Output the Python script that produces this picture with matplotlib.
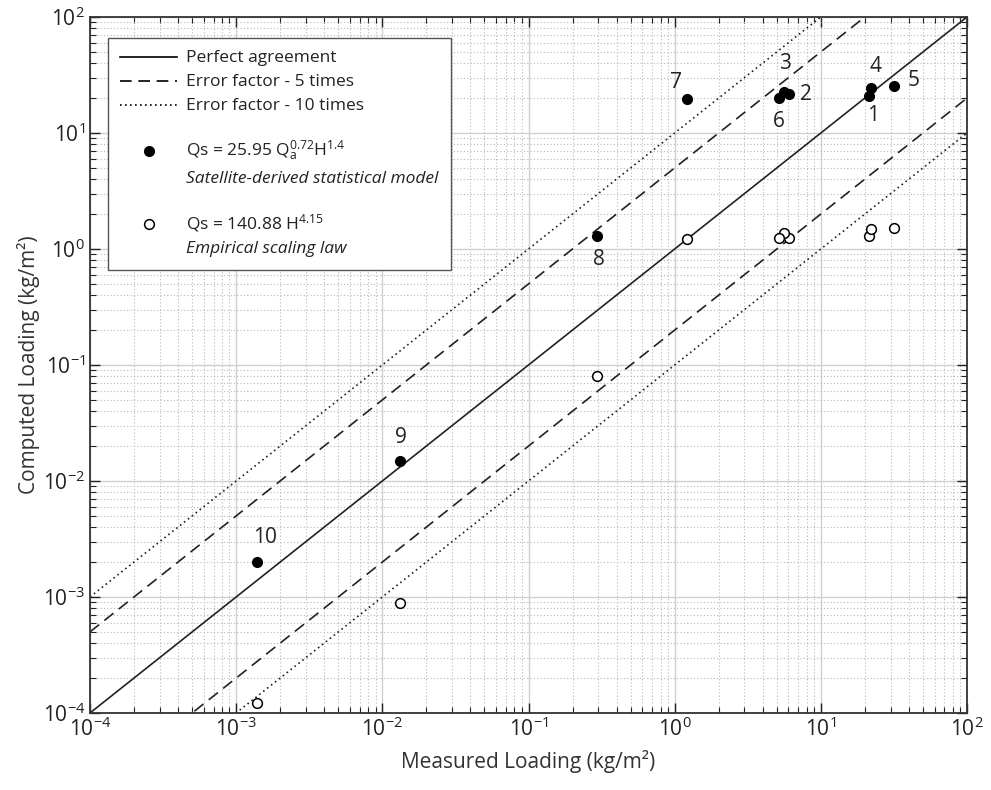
import numpy as np
import matplotlib
matplotlib.use('Agg')
import matplotlib.pyplot as plt
from matplotlib.lines import Line2D
from matplotlib.ticker import LogLocator, NullFormatter

# Werte
site_ids = ['1', '2', '3', '4', '5', '6', '7', '8', '9', '10']
measured = [21.4, 6.07, 5.58, 22.2, 31.6, 5.14, 1.22, 0.295, 0.0132, 0.00138]
computed_model = [20.8, 21.6, 22.7, 24.3, 25.4, 19.9, 19.5, 1.29, 0.0149, 0.00199]
computed_scaling = [1.29, 1.25, 1.36, 1.48, 1.53, 1.25, 1.21, 0.080, 0.00089, 0.000121]

# Fehlerfaktoren fuer die Referenzlinien
factors = [1, 5, 10]
line_styles = {1: '-', 5: (0, (7, 4)), 10: (0, (1, 2))}

# Beschriftungs-Versatz (Punkte) fuer jede Nummer
label_offsets = [(3, -14), (12, 0), (1, 20), (3, 16), (14, 4),
                 (0, -17), (-8, 12), (1, -17), (1, 17), (6, 18)]

plt.rcParams['font.family'] = ['Open Sans', 'DejaVu Sans']
plt.rcParams['mathtext.fontset'] = 'custom'
plt.rcParams['mathtext.rm'] = 'Open Sans'
plt.rcParams['mathtext.it'] = 'Open Sans:italic'
plt.rcParams['mathtext.bf'] = 'Open Sans:bold'
plt.rcParams['mathtext.default'] = 'regular'

fig = plt.figure(figsize=(9.91, 7.90), dpi=100)
ax = fig.add_axes([0.0908, 0.0975, 0.885, 0.881])

x_line = np.array([1e-4, 1e2])
for f in factors:
    ax.plot(x_line, x_line * f, color='#222222', lw=1.2, ls=line_styles[f])
    if f != 1:
        ax.plot(x_line, x_line / f, color='#222222', lw=1.2, ls=line_styles[f])

ax.plot(measured, computed_model, 'o', color='black', ms=7, zorder=5)
ax.plot(measured, computed_scaling, 'o', mfc='white', mec='black', mew=1.1, ms=7, zorder=5)

for sid, xv, yv, off in zip(site_ids, measured, computed_model, label_offsets):
    ax.annotate(sid, (xv, yv), xytext=off, textcoords='offset points',
                ha='center', va='center', fontsize=15, color='#222222')

ax.set_xscale('log')
ax.set_yscale('log')
ax.set_xlim(1e-4, 1e2)
ax.set_ylim(1e-4, 1e2)

for axis in (ax.xaxis, ax.yaxis):
    axis.set_major_locator(LogLocator(base=10, numticks=20))
    axis.set_minor_locator(LogLocator(base=10, subs=np.arange(2, 10), numticks=100))
    axis.set_minor_formatter(NullFormatter())

ax.grid(which='major', color='#d0d0d0', lw=1.0, ls='-')
ax.grid(which='minor', color='#b8b8b8', lw=0.8, ls=(0, (1, 2)))
ax.set_axisbelow(True)

ax.tick_params(which='both', direction='in', top=True, right=True, labelsize=15, colors='#222222')
ax.tick_params(which='major', length=7, width=1)
ax.tick_params(which='minor', length=4, width=0.8)
for sp in ax.spines.values():
    sp.set_linewidth(1.3)
    sp.set_color('#333333')

ax.set_xlabel('Measured Loading (kg/m²)', fontsize=15, color='#333333', labelpad=6)
ax.set_ylabel('Computed Loading (kg/m²)', fontsize=15, color='#333333', labelpad=2)

blank = Line2D([], [], ls='none')
handles = [
    Line2D([], [], color='black', lw=1.2, ls=line_styles[1]),
    Line2D([], [], color='black', lw=1.2, ls=line_styles[5]),
    Line2D([], [], color='black', lw=1.2, ls=line_styles[10]),
    blank,
    Line2D([], [], ls='none', marker='o', color='black', ms=7),
    blank,
    blank,
    Line2D([], [], ls='none', marker='o', mfc='white', mec='black', mew=1.1, ms=7),
    blank,
]
labels = [
    'Perfect agreement',
    'Error factor - 5 times',
    'Error factor - 10 times',
    ' ',
    r'Qs = 25.95 Q$_a^{0.72}$H$^{1.4}$',
    'Satellite-derived statistical model',
    ' ',
    r'Qs = 140.88 H$^{4.15}$',
    'Empirical scaling law',
]
leg = ax.legend(handles, labels, loc='upper left', bbox_to_anchor=(0.0205, 0.97),
                borderaxespad=0, fontsize=12.5, handlelength=3.28, handletextpad=0.52,
                handleheight=0.15, labelspacing=0.45, fancybox=False, framealpha=1,
                edgecolor='#555555', borderpad=0.7)
leg.get_frame().set_linewidth(1.0)
texts = leg.get_texts()
for i in (3, 6):
    texts[i].set_fontsize(1)
for i in (5, 8):
    texts[i].set_style('italic')
for t in texts:
    t.set_color('#222222')

fig.savefig('out.png', dpi=100)
